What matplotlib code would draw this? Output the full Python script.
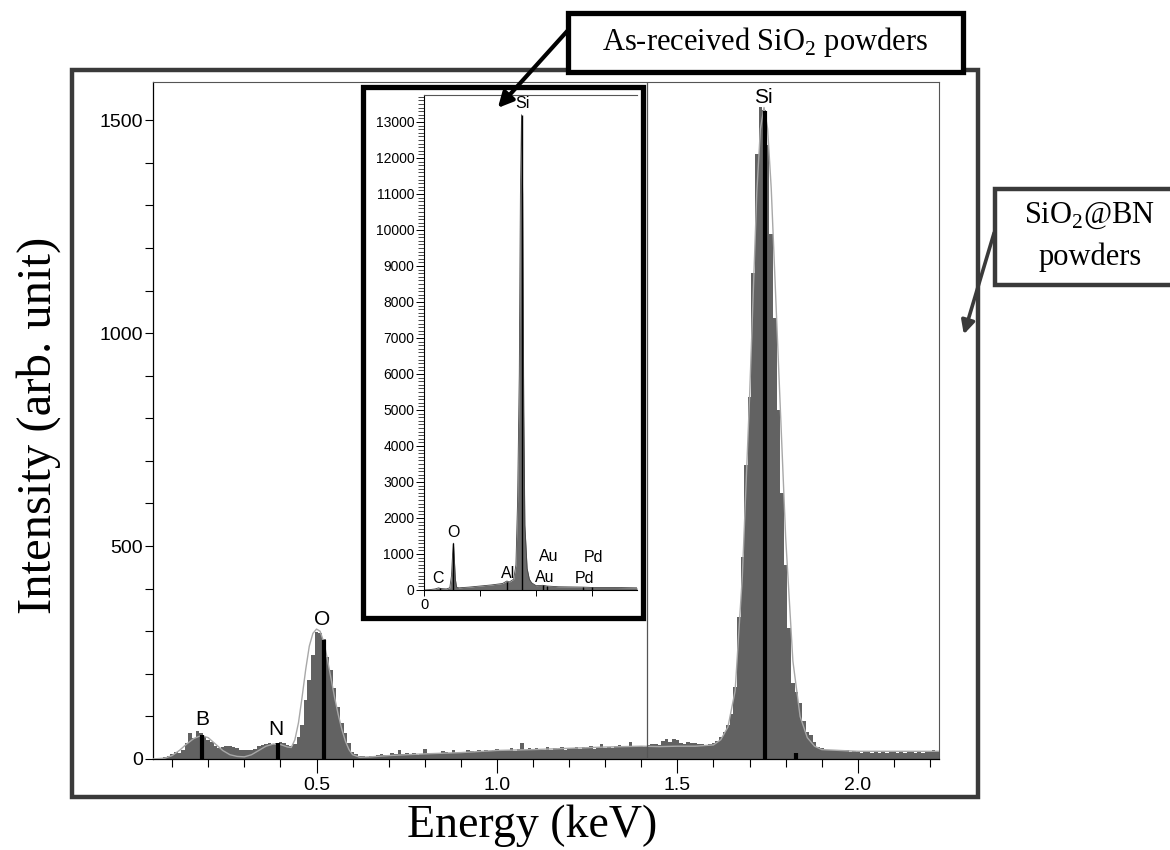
import numpy as np
import matplotlib
matplotlib.use('Agg')
import matplotlib.pyplot as plt
from matplotlib.patches import Rectangle, FancyArrowPatch
from matplotlib.ticker import MultipleLocator

plt.rcParams['font.family'] = ['Liberation Sans', 'DejaVu Sans']
plt.rcParams['mathtext.fontset'] = 'custom'
plt.rcParams['mathtext.rm'] = 'Liberation Serif'

# main spectrum (SiO2@BN), 10 eV channels starting at 0.05 keV
energy = np.round(np.arange(0.05, 2.225, 0.01), 2)
counts = [
    0, 0, 2, 4, 6, 12, 16, 14, 20, 38,
    61, 50, 66, 62, 52, 45, 40, 30, 26, 27,
    30, 31, 29, 26, 22, 20, 20, 22, 24, 30,
    33, 35, 37, 36, 38, 40, 38, 33, 30, 35,
    52, 80, 139, 185, 244, 298, 295, 282, 240, 209,
    167, 122, 85, 61, 38, 16, 12, 8, 6, 5,
    8, 6, 10, 12, 9, 10, 14, 12, 22, 12,
    14, 11, 13, 10, 12, 24, 14, 12, 15, 13,
    18, 16, 14, 20, 15, 17, 15, 22, 18, 16,
    20, 17, 22, 18, 20, 24, 18, 22, 20, 25,
    19, 24, 38, 22, 25, 20, 26, 24, 21, 27,
    22, 26, 24, 28, 22, 26, 25, 29, 24, 27,
    26, 30, 24, 27, 36, 26, 28, 25, 30, 32,
    27, 29, 40, 28, 30, 31, 29, 32, 34, 36,
    33, 42, 46, 40, 47, 44, 38, 36, 41, 38,
    37, 36, 34, 33, 35, 38, 42, 52, 64, 80,
    106, 170, 334, 475, 690, 850, 1141, 1420, 1531, 1525,
    1441, 1234, 1035, 820, 624, 455, 307, 178, 158, 131,
    88, 64, 56, 41, 29, 25, 22, 22, 20, 21,
    22, 18, 20, 16, 18, 17, 15, 18, 16, 14,
    17, 15, 18, 14, 16, 19, 15, 17, 13, 16,
    18, 14, 17, 15, 19, 16, 20, 18,
]

# fitted envelope
fit_e = [0.047, 0.08, 0.10, 0.12, 0.14, 0.16, 0.18, 0.20, 0.22, 0.24, 0.26, 0.28,
         0.30, 0.32, 0.34, 0.36, 0.38, 0.40, 0.42, 0.43, 0.44, 0.45, 0.46, 0.47,
         0.48, 0.49, 0.50, 0.51, 0.52, 0.53, 0.54, 0.55, 0.56, 0.57, 0.58, 0.59,
         0.60, 0.62, 0.65, 0.70, 0.80, 0.90, 1.00, 1.10, 1.20, 1.30, 1.40, 1.45,
         1.50, 1.55, 1.60, 1.62, 1.64, 1.66, 1.68, 1.70, 1.72, 1.73, 1.74, 1.75,
         1.76, 1.78, 1.80, 1.82, 1.84, 1.86, 1.88, 1.90, 2.00, 2.225]
fit_c = [0, 2, 8, 20, 35, 48, 55, 50, 35, 20, 10, 6,
         5, 10, 20, 30, 35, 34, 28, 27, 45, 85, 145, 210,
         265, 295, 305, 300, 275, 235, 190, 145, 105, 70, 42, 22,
         10, 4, 5, 8, 12, 15, 20, 22, 25, 28, 30, 29,
         30, 30, 33, 45, 75, 160, 430, 850, 1330, 1480, 1530, 1480,
         1340, 930, 520, 230, 100, 50, 30, 22, 18, 18]

# element markers
mark_e = [0.183, 0.393, 0.522, 1.742, 1.829]
mark_h = [56, 38, 280, 1522, 15]
peak_names = ['B', 'N', 'O', 'Si']
peak_x = [0.182, 0.388, 0.515, 1.738]
peak_y = [70, 48, 306, 1530]

# inset: as-received SiO2
in_e = [0.0, 0.10, 0.20, 0.26, 0.30, 0.40, 0.46, 0.49, 0.51, 0.525, 0.54, 0.56,
        0.58, 0.62, 0.80, 1.00, 1.20, 1.40, 1.48, 1.52, 1.60, 1.64, 1.67, 1.70,
        1.72, 1.74, 1.76, 1.78, 1.80, 1.84, 1.88, 1.92, 2.00, 2.12, 2.20, 2.40,
        2.84, 3.00, 3.40, 3.80]
in_c = [0, 10, 30, 60, 40, 30, 60, 400, 1000, 1300, 900, 300,
        80, 60, 80, 110, 140, 180, 250, 220, 300, 700, 2500, 6000,
        11000, 13200, 11000, 5000, 1800, 600, 300, 200, 120, 130, 110, 90,
        80, 70, 70, 60]
in_mark_e = [0.277, 0.525, 1.486, 1.74, 2.12, 2.20, 2.84, 2.99]
in_mark_h = [60, 1300, 220, 13200, 130, 110, 80, 70]
in_names = ['C', 'O', 'Al', 'Si', 'Au', 'Au', 'Pd', 'Pd']
in_lx = [0.25, 0.52, 1.50, 1.76, 2.23, 2.16, 3.02, 2.86]
in_ly = [330, 1600, 470, 13500, 920, 360, 890, 330]

fig = plt.figure(figsize=(11.7, 8.5), dpi=100)

ax = fig.add_axes([0.1308, 0.1071, 0.6718, 0.7965])
ax.bar(energy, counts, width=0.01, color='#626262', linewidth=0, zorder=2)
ax.plot(fit_e, fit_c, color='#a8a8a8', lw=1.0, zorder=3)
ax.vlines(mark_e, 0, mark_h, color='black', lw=3, zorder=4)
for n, x, y in zip(peak_names, peak_x, peak_y):
    ax.text(x, y, n, ha='center', va='bottom', fontsize=15)
ax.axvline(1.416, color='#555555', lw=0.9, zorder=5)
ax.set_xlim(0.047, 2.225)
ax.set_ylim(0, 1590)
ax.set_xticks([0.5, 1.0, 1.5, 2.0])
ax.set_xticklabels(['0.5', '1.0', '1.5', '2.0'])
ax.xaxis.set_minor_locator(MultipleLocator(0.1))
ax.set_yticks([0, 500, 1000, 1500])
ax.yaxis.set_minor_locator(MultipleLocator(100))
ax.tick_params(axis='x', which='major', length=10, width=0.8, labelsize=14, pad=3)
ax.tick_params(axis='x', which='minor', length=5.5, width=0.8)
ax.tick_params(axis='y', which='both', length=6, width=0.8, labelsize=14, pad=1)
for s in ['top', 'right']:
    ax.spines[s].set_color('#555555')
    ax.spines[s].set_linewidth(0.8)
ax.spines['left'].set_linewidth(0.9)
ax.spines['bottom'].set_linewidth(0.9)

fig.text(0.4547, 0.029, 'Energy (keV)', ha='center', va='center',
         family='Liberation Serif', fontsize=33)
fig.text(0.033, 0.5, 'Intensity (arb. unit)', ha='center', va='center',
         rotation=90, family='Liberation Serif', fontsize=35)

# inset
axi = fig.add_axes([0.3624, 0.3059, 0.182, 0.5824])
axi.fill_between(in_e, in_c, color='#6a6a6a', lw=0)
axi.plot(in_e, in_c, color='#444444', lw=0.6)
axi.vlines(in_mark_e, 0, in_mark_h, color='black', lw=1)
for n, x, y in zip(in_names, in_lx, in_ly):
    axi.text(x, y, n, ha='center', va='center', fontsize=11.5)
axi.set_xlim(0, 3.8)
axi.set_ylim(0, 13750)
axi.set_xticks([0, 1, 2, 3])
axi.set_xticklabels(['0', '', '', ''])
axi.set_yticks(range(0, 13001, 1000))
axi.yaxis.set_minor_locator(MultipleLocator(100))
axi.tick_params(axis='y', which='major', length=6, width=0.7, labelsize=10, pad=1)
axi.tick_params(axis='y', which='minor', length=4, width=0.5)
axi.tick_params(axis='x', length=4, width=0.7, labelsize=10.5, pad=2)
axi.spines['right'].set_visible(False)
axi.spines['top'].set_color('#555555')
axi.spines['top'].set_linewidth(0.8)

# frames, callouts
fig.add_artist(Rectangle((0.0615, 0.0624), 0.7744, 0.8552, transform=fig.transFigure,
                         fill=False, ec='#3a3a3a', lw=3.2))
fig.add_artist(Rectangle((0.3103, 0.2729), 0.2393, 0.6247, transform=fig.transFigure,
                         fill=False, ec='black', lw=3.8))
fig.add_artist(FancyArrowPatch((0.4872, 0.9671), (0.4239, 0.8706), transform=fig.transFigure,
                               arrowstyle='-|>', mutation_scale=22, lw=3, color='black'))
fig.add_artist(Rectangle((0.4855, 0.9153), 0.3376, 0.0694, transform=fig.transFigure,
                         fc='white', ec='black', lw=3.8, zorder=6))
fig.text(0.654, 0.951, 'As-received SiO$_2$ powders', ha='center', va='center',
         family='Liberation Serif', fontsize=22, zorder=7)
fig.add_artist(FancyArrowPatch((0.8504, 0.7294), (0.8231, 0.6035), transform=fig.transFigure,
                               arrowstyle='-|>', mutation_scale=20, lw=2.6, color='#3a3a3a'))
fig.add_artist(Rectangle((0.8504, 0.6647), 0.16, 0.1129, transform=fig.transFigure,
                         fc='white', ec='#3a3a3a', lw=3.2, zorder=6))
fig.text(0.9316, 0.746, 'SiO$_2$@BN', ha='center', va='center',
         family='Liberation Serif', fontsize=22, zorder=7)
fig.text(0.9316, 0.697, 'powders', ha='center', va='center',
         family='Liberation Serif', fontsize=22, zorder=7)

fig.savefig('out.png', dpi=100)
